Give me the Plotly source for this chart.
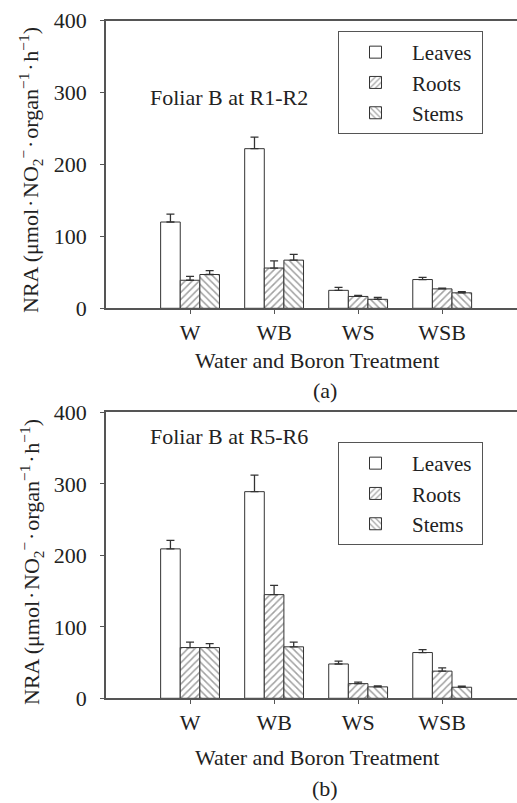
import plotly.graph_objects as go

categories = ["W", "WB", "WS", "WSB"]
series_names = ["Leaves", "Roots", "Stems"]

# Panel (a): Foliar B at R1-R2
a_leaves = [120, 222, 25, 40]
a_leaves_err = [11, 16, 4, 3]
a_roots = [39, 56, 16.5, 27]
a_roots_err = [5.5, 10, 1.5, 1]
a_stems = [47, 67, 12.5, 21.5]
a_stems_err = [5.5, 8, 2.5, 1.5]

# Panel (b): Foliar B at R5-R6
b_leaves = [209, 289, 48, 64]
b_leaves_err = [12, 23, 4, 4]
b_roots = [71, 145, 20.5, 38]
b_roots_err = [7.5, 13, 2, 4.5]
b_stems = [71, 72, 16, 15.5]
b_stems_err = [5.5, 6.5, 1.5, 1.5]

y_ticks = [0, 100, 200, 300, 400]

W, H = 517, 803
FONT = "Liberation Serif"
FS = 22
TXT = "#222222"
LINE = "#555555"

xpos = list(range(len(categories)))
patterns = ["", "/", "\\"]

fig = go.Figure()

def add_panel(vals, errs, xa, ya, legend):
    for name, v, e, shp in zip(series_names, vals, errs, patterns):
        fig.add_trace(go.Bar(
            x=xpos, y=v, name=name + "\u00a0", xaxis=xa, yaxis=ya, legend=legend,
            marker=dict(color="white", line=dict(color="#333333", width=1),
                        pattern=dict(shape=shp, fgcolor="#444444", bgcolor="white",
                                     size=5, solidity=0.3)),
            error_y=dict(type="data", array=e, arrayminus=[0] * len(e), symmetric=False,
                         color="#333333", thickness=1.3, width=4),
        ))

add_panel([a_leaves, a_roots, a_stems], [a_leaves_err, a_roots_err, a_stems_err], "x", "y", "legend")
add_panel([b_leaves, b_roots, b_stems], [b_leaves_err, b_roots_err, b_stems_err], "x2", "y2", "legend2")

def py(px):
    return 1 - px / H

def pxx(px):
    return px / W

xdom = [pxx(106), 1.0]
ax_common = dict(showline=True, linecolor=LINE, linewidth=1.5, showgrid=False, zeroline=False,
                 automargin=False, tickfont=dict(family=FONT, size=FS, color=TXT))
xaxis = dict(ax_common, domain=xdom, range=[-1, 3.89], tickvals=xpos, ticktext=categories,
             ticks="outside", ticklen=4, tickcolor=LINE, mirror=True)
yaxis_common = dict(ax_common, range=[0, 400], tickvals=y_ticks, ticks="outside", ticklen=4,
                    tickcolor=LINE, ticklabelstandoff=9)

legend_common = dict(xanchor="left", yanchor="top", bordercolor=LINE, borderwidth=1,
                     bgcolor="white", font=dict(family=FONT, size=21, color=TXT),
                     itemwidth=63, traceorder="normal")

D = "\u200a·\u200a"
ytitle = ("NRA (μmol" + D + "NO<sub>2</sub><sup>−</sup>" + D + "organ<sup>−1</sup>"
          + D + "h<sup>−1</sup>)")

ann = []
def A(text, x, y, **kw):
    d = dict(text=text, x=x, y=y, xref="paper", yref="paper", showarrow=False,
             font=dict(family=FONT, size=FS, color=TXT))
    d.update(kw)
    ann.append(d)

A("Foliar B at R1-R2", pxx(148), py(97), xanchor="left", yanchor="middle")
A("Foliar B at R5-R6", pxx(148), py(437), xanchor="left", yanchor="middle")
A("Water and Boron Treatment", pxx(317), py(360), xanchor="center", yanchor="middle")
A("Water and Boron Treatment", pxx(317), py(757), xanchor="center", yanchor="middle")
A("(a)", pxx(325), py(391), xanchor="center", yanchor="middle")
A("(b)", pxx(325), 0.0, xanchor="center", yanchor="bottom")
A(ytitle, pxx(31), py(170), xanchor="center", yanchor="middle", textangle=-90)
A(ytitle, pxx(31), py(562), xanchor="center", yanchor="middle", textangle=-90)

fig.update_layout(
    width=W, height=H,
    margin=dict(l=0, r=0, t=0, b=0, autoexpand=False),
    paper_bgcolor="white", plot_bgcolor="white",
    barmode="group", bargap=0.3, bargroupgap=0,
    xaxis=xaxis,
    xaxis2=dict(xaxis, anchor="y2"),
    yaxis=dict(yaxis_common, domain=[py(308.3), py(20.7)], anchor="x"),
    yaxis2=dict(yaxis_common, domain=[py(698.3), py(412.3)], anchor="x2"),
    legend=dict(legend_common, x=pxx(338), y=py(31)),
    legend2=dict(legend_common, x=pxx(338), y=py(442)),
    annotations=ann,
    showlegend=True,
)
fig.update_layout(xaxis=dict(anchor="y"))

fig.write_html("out.html", config={"displayModeBar": False},
               post_script="document.body.style.margin='0';document.body.style.overflow='hidden';")
